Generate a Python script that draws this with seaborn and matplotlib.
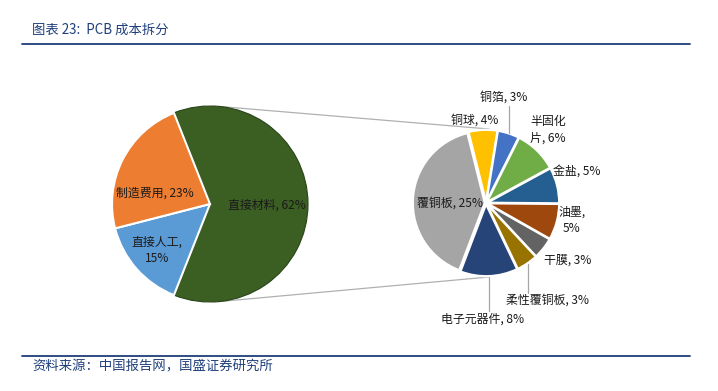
import numpy as np
import matplotlib
matplotlib.use("Agg")
import matplotlib.pyplot as plt
import seaborn as sns

# =========================================================
# Data
# =========================================================

MAIN_LABELS = ["直接材料", "直接人工", "制造费用"]
MAIN_VALUES = [62, 15, 23]
MAIN_COLORS = ["#3B5E23", "#5B9BD5", "#ED7D31"]

SUB_LABELS = ["铜球", "铜箔", "半固化\n片", "金盐", "油墨,\n", "干膜",
              "柔性覆铜板", "电子元器件", "覆铜板"]
SUB_VALUES = [4, 3, 6, 5, 5, 3, 3, 8, 25]
SUB_COLORS = ["#FFC000", "#4472C4", "#70AD47", "#255E91", "#9E480E",
              "#636363", "#997300", "#264478", "#A5A5A5"]

TITLE = "图表 23:  PCB 成本拆分"
SOURCE = "资料来源：中国报告网，国盛证券研究所"

# =========================================================
# Layout (pixel coordinates, y measured from top)
# =========================================================

W, H = 718, 391
MAIN_CENTER, MAIN_RADIUS = (210, 204), 98
SUB_CENTER, SUB_RADIUS = (486, 203), 72

MAIN_TEXT_POS = [(267, 205), (157, 250), (155, 193)]
SUB_TEXT_POS = [(475, 120), (504, 97), (548, 130), (577, 171), (572, 220),
                (568, 260), (547, 300), (483, 319), (450, 203)]
LEADERS = {1: 106, 6: 293, 7: 311}   # label index -> leader end y

BLUE = "#1F3F7A"
TEXT = "#1a1a1a"

sns.set_theme(style="white")
plt.rcParams["font.family"] = ["Noto Sans CJK SC", "DejaVu Sans"]


def fy(y):
    return H - y


def main_label(name, value):
    if name == "直接人工":
        return f"{name},\n{value}%"
    return f"{name}, {value}%"


def sub_label(name, value):
    if name.endswith(",\n"):
        return f"{name}{value}%"
    return f"{name}, {value}%"


fig = plt.figure(figsize=(W / 100, H / 100), dpi=100)
ax = fig.add_axes([0, 0, 1, 1])

# ---------------- left pie ----------------
wedges, _ = ax.pie(
    MAIN_VALUES,
    colors=MAIN_COLORS,
    startangle=MAIN_VALUES[0] / 100 * 180,
    counterclock=False,
    center=(MAIN_CENTER[0], fy(MAIN_CENTER[1])),
    radius=MAIN_RADIUS,
    wedgeprops=dict(edgecolor="white", linewidth=1.5),
    frame=True,
)
wedges[0].set_edgecolor("#2A4418")
wedges[0].set_linewidth(0.8)
wedges[0].set_zorder(0.5)

# ---------------- right pie ----------------
sub_total = sum(SUB_VALUES)
sub_start = 104
ax.pie(
    SUB_VALUES,
    colors=SUB_COLORS,
    startangle=sub_start,
    counterclock=False,
    center=(SUB_CENTER[0], fy(SUB_CENTER[1])),
    radius=SUB_RADIUS,
    explode=[1.2] * len(SUB_VALUES),
    wedgeprops=dict(edgecolor="white", linewidth=1.6),
    frame=True,
)

# connector lines between the two pies
for sgn in (1, -1):
    a = np.deg2rad(85 * sgn)
    x0 = MAIN_CENTER[0] + MAIN_RADIUS * np.cos(a)
    y0 = fy(MAIN_CENTER[1]) + MAIN_RADIUS * np.sin(a)
    x1 = SUB_CENTER[0] + 3
    y1 = fy(SUB_CENTER[1]) + sgn * (SUB_RADIUS + 2)
    ax.plot([x0, x1], [y0, y1], color="#B0B0B0", lw=0.9, zorder=0)

# labels
for name, val, (x, y) in zip(MAIN_LABELS, MAIN_VALUES, MAIN_TEXT_POS):
    ax.text(x, fy(y), main_label(name, val), ha="center", va="center",
            fontsize=8.6, color=TEXT, linespacing=1.3)

cum = sub_start
for i, (name, val, (x, y)) in enumerate(zip(SUB_LABELS, SUB_VALUES, SUB_TEXT_POS)):
    span = val / sub_total * 360
    mid = np.deg2rad(cum - span / 2)
    cum -= span
    align = "left" if name.startswith("半固化") else "center"
    ax.text(x, fy(y), sub_label(name, val), ha="center", va="center",
            multialignment=align, fontsize=8.6, color=TEXT, linespacing=1.3)
    if i in LEADERS:
        px = SUB_CENTER[0] + (SUB_RADIUS + 2) * np.cos(mid)
        py = fy(SUB_CENTER[1]) + (SUB_RADIUS + 2) * np.sin(mid)
        ax.plot([px, px], [py, fy(LEADERS[i])], color="#A6A6A6", lw=0.9)

# title, source and rules
ax.text(32, fy(30), TITLE, fontsize=9.6, color=BLUE, style="italic",
        ha="left", va="center")
ax.plot([22, 690], [fy(44), fy(44)], color=BLUE, lw=1.3)
ax.plot([22, 690], [fy(356), fy(356)], color=BLUE, lw=1.3)
ax.text(32, fy(366), SOURCE, fontsize=9.6, color=BLUE, style="italic",
        ha="left", va="center")

ax.set_xlim(0, W)
ax.set_ylim(0, H)
ax.set_aspect("equal")
ax.axis("off")

fig.savefig("out.png", dpi=100)
